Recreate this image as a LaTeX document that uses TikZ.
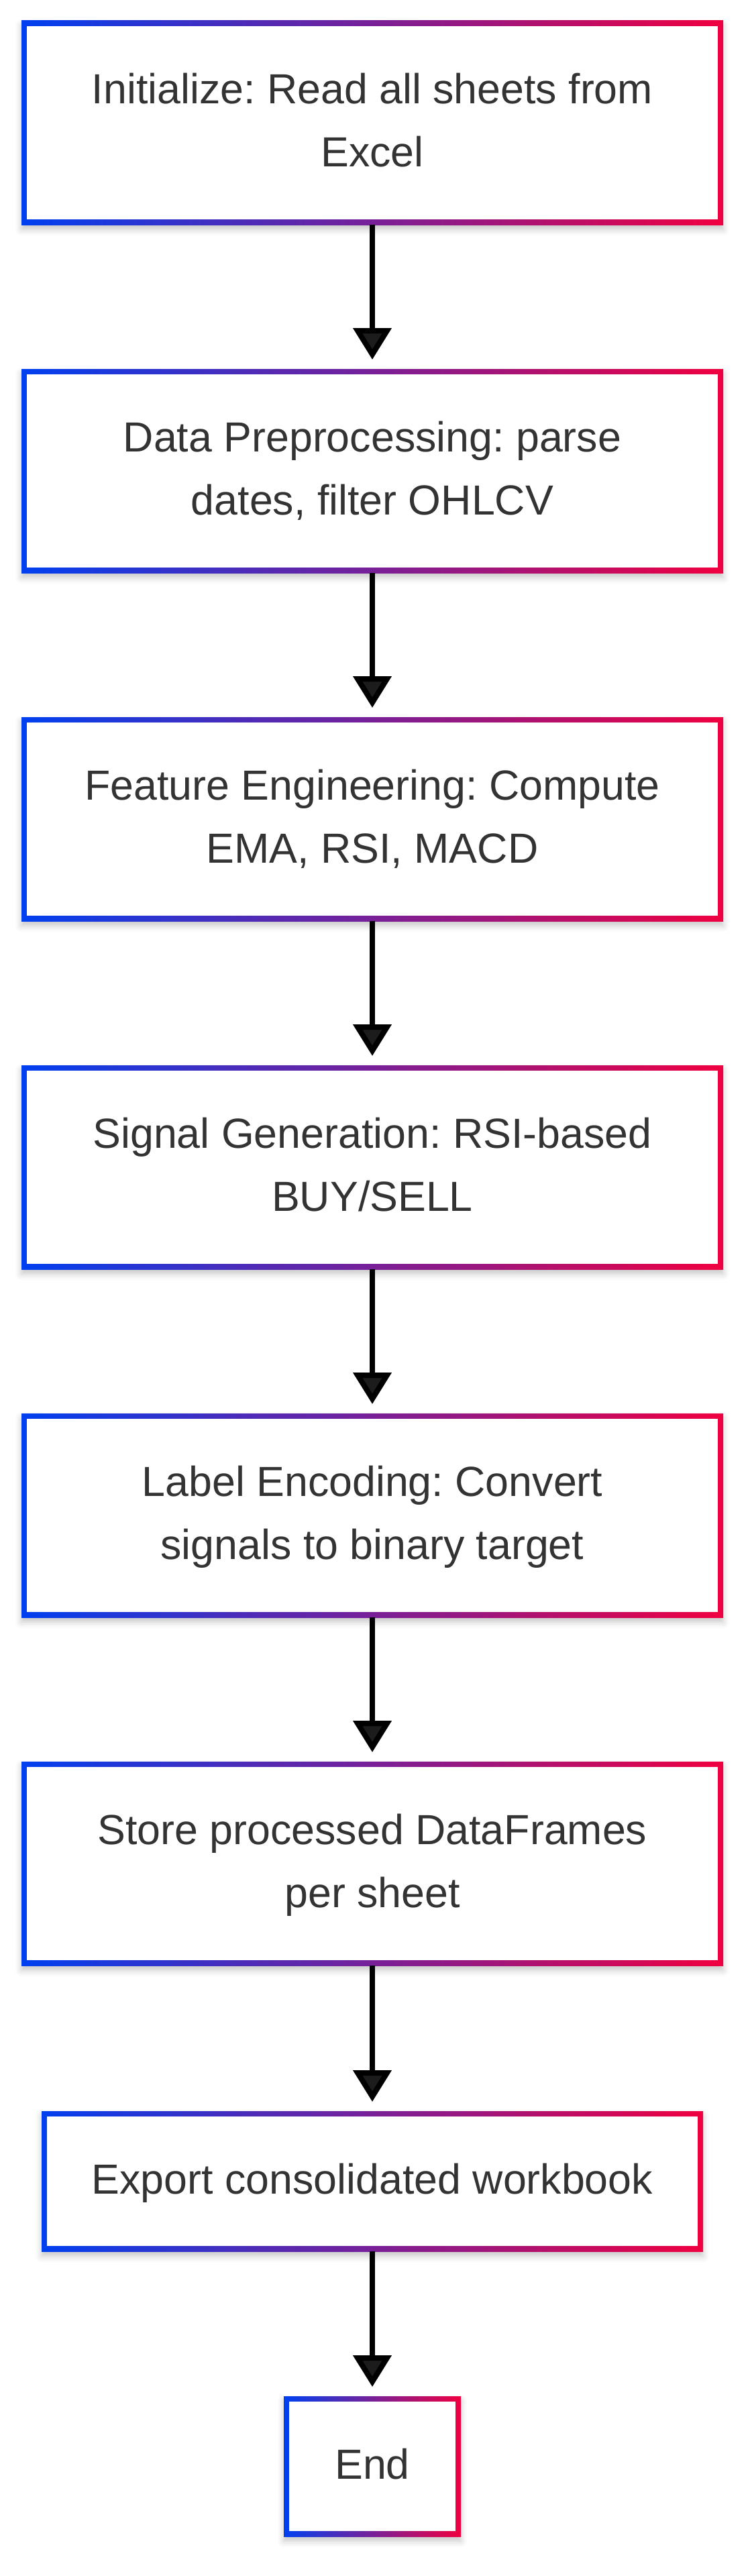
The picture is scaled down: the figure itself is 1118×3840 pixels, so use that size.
\documentclass[tikz,border=0pt]{standalone}
\usepackage{fontspec}
\setmainfont{Liberation Sans}
\usetikzlibrary{arrows.meta,shadows.blur}
\pgfdeclarelayer{background}
\pgfsetlayers{background,main}
\definecolor{gblue}{RGB}{0,64,240}
\definecolor{gred}{RGB}{240,0,64}
\definecolor{txt}{RGB}{51,51,51}
\tikzset{
  boxtext/.style={inner sep=0pt, outer sep=0pt, align=center, text=txt,
    font=\fontsize{62.7}{94}\selectfont\frenchspacing},
  gradframe/.style={left color=gblue, right color=gred,
    blur shadow={shadow xshift=0pt, shadow yshift=-7pt, shadow blur radius=9pt, shadow opacity=22}},
  flowarrow/.style={line width=8pt, -{Triangle[width=56pt,length=47pt]}},
}
\newcommand\flowbox[6]{%
  \node[boxtext, minimum width=#4pt, minimum height=#5pt] (#1) at (#2,#3) {#6};
  \begin{pgfonlayer}{background}
    \shade[gradframe] (#1.south west) rectangle (#1.north east);
    \fill[white] ([shift={(8pt,8pt)}]#1.south west) rectangle ([shift={(-8pt,-8pt)}]#1.north east);
  \end{pgfonlayer}}
\begin{document}
\begin{tikzpicture}[x=1pt,y=-1pt]
\useasboundingbox (0,0) rectangle (1118,3840);
\flowbox{n1}{555}{183}{1046}{304}{\strut Initialize: Read all sheets from\\\strut Excel}
\flowbox{n2}{555}{702}{1046}{304}{\strut Data Preprocessing: parse\\\strut dates, filter OHLCV}
\flowbox{n3}{555}{1221}{1046}{304}{\strut Feature Engineering: Compute\\\strut EMA, RSI, MACD}
\flowbox{n4}{555}{1740}{1046}{304}{\strut Signal Generation: RSI-based\\\strut BUY/SELL}
\flowbox{n5}{555}{2259}{1046}{304}{\strut Label Encoding: Convert\\\strut signals to binary target}
\flowbox{n6}{555}{2778}{1046}{304}{\strut Store processed DataFrames\\\strut per sheet}
\flowbox{n7}{555}{3251.5}{986}{209}{\strut Export consolidated workbook}
\flowbox{n8}{555}{3676.5}{264}{209}{\strut End}
\draw[flowarrow] (n1.south) -- ([yshift=14pt]n2.north);
\draw[flowarrow] (n2.south) -- ([yshift=14pt]n3.north);
\draw[flowarrow] (n3.south) -- ([yshift=14pt]n4.north);
\draw[flowarrow] (n4.south) -- ([yshift=14pt]n5.north);
\draw[flowarrow] (n5.south) -- ([yshift=14pt]n6.north);
\draw[flowarrow] (n6.south) -- ([yshift=14pt]n7.north);
\draw[flowarrow] (n7.south) -- ([yshift=14pt]n8.north);
\end{tikzpicture}
\end{document}
